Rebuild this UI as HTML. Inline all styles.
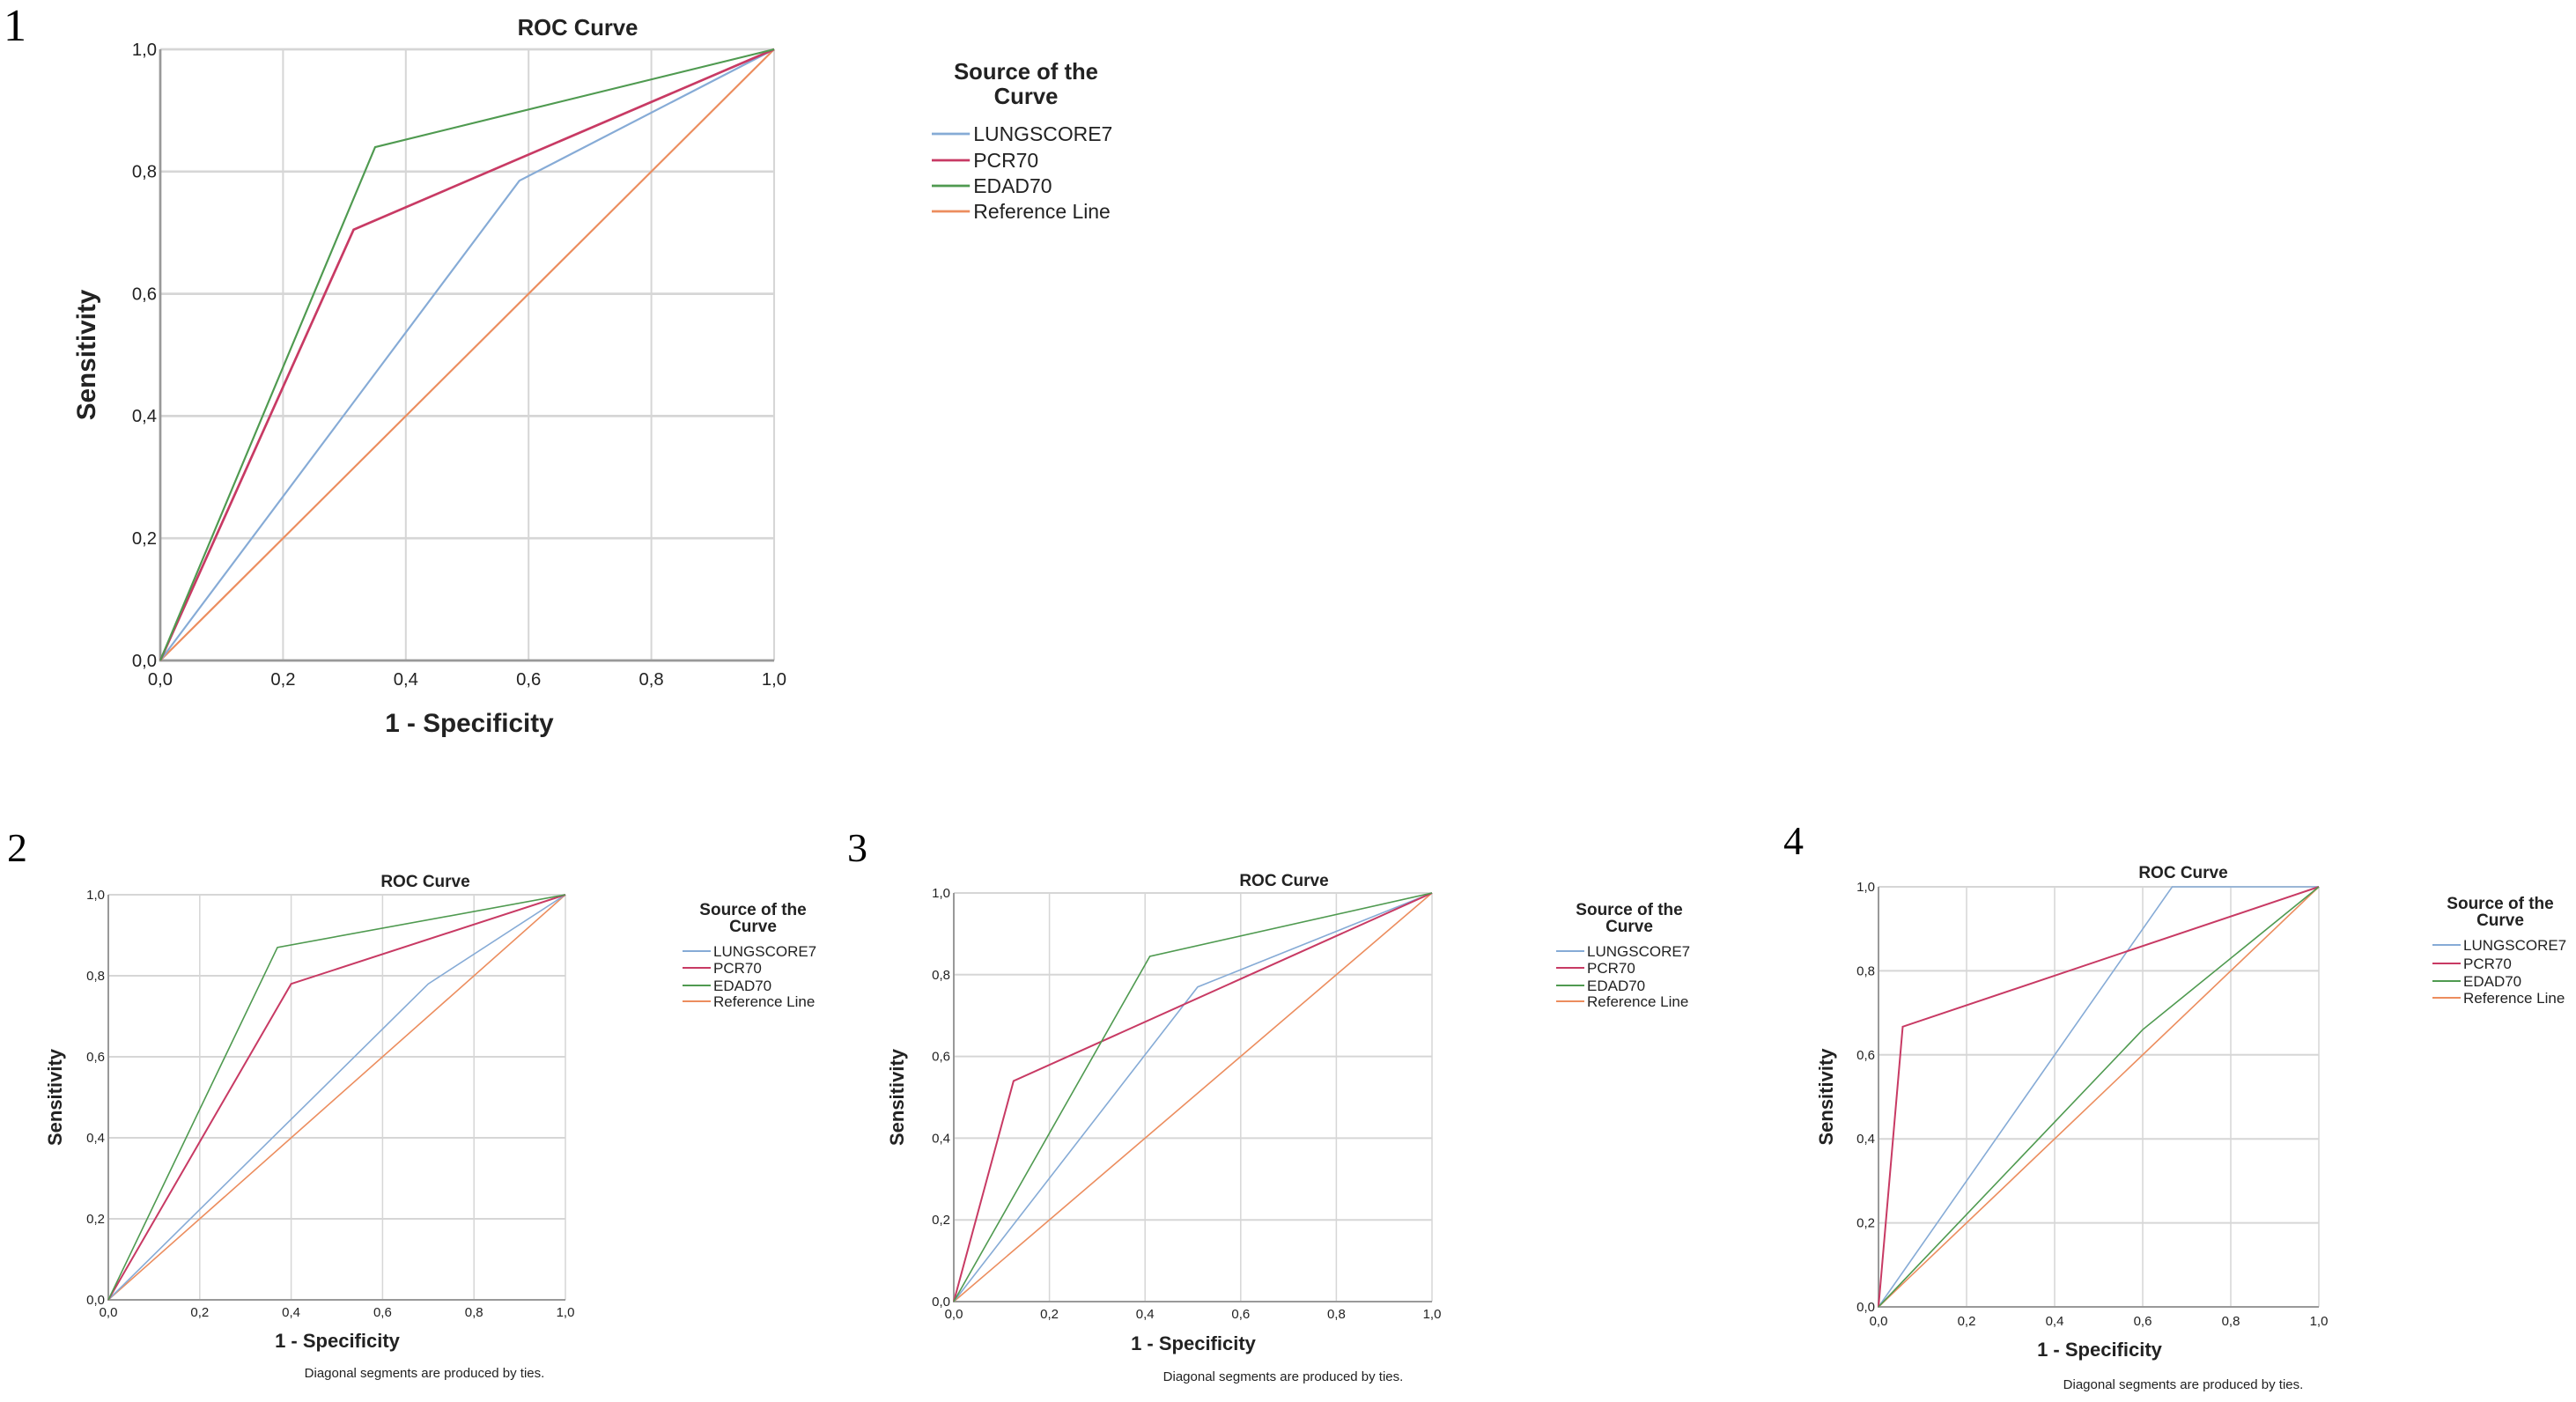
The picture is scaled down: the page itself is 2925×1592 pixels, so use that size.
<!DOCTYPE html>
<html><head><meta charset="utf-8"><style>
html,body{margin:0;padding:0;background:#fff;}
svg{display:block;}
text{font-family:"Liberation Sans Narrow","Liberation Sans",sans-serif;fill:#222;}
.num{font-family:"Liberation Serif",serif;fill:#000;}
</style></head><body>
<svg id="fig" width="2925" height="1592" viewBox="0 0 2925 1592"></svg>
<script>
// Panel 1
const p1LungX=[0,0.585,1], p1LungY=[0,0.785,1];
const p1PcrX=[0,0.315,1], p1PcrY=[0,0.705,1];
const p1EdadX=[0,0.35,1], p1EdadY=[0,0.84,1];
// Panel 2
const p2LungX=[0,0.70,1], p2LungY=[0,0.78,1];
const p2PcrX=[0,0.40,1], p2PcrY=[0,0.78,1];
const p2EdadX=[0,0.37,1], p2EdadY=[0,0.87,1];
// Panel 3
const p3LungX=[0,0.51,1], p3LungY=[0,0.77,1];
const p3PcrX=[0,0.125,1], p3PcrY=[0,0.54,1];
const p3EdadX=[0,0.41,1], p3EdadY=[0,0.845,1];
// Panel 4
const p4LungX=[0,0.667,1], p4LungY=[0,1,1];
const p4PcrX=[0,0.055,1], p4PcrY=[0,0.667,1];
const p4EdadX=[0,0.60,1], p4EdadY=[0,0.66,1];
const refX=[0,1], refY=[0,1];
const tickVals=[0,0.2,0.4,0.6,0.8,1.0];
const tickLabels=["0,0","0,2","0,4","0,6","0,8","1,0"];
const seriesNames=["LUNGSCORE7","PCR70","EDAD70","Reference Line"];
const seriesColors=["#86abd6","#c83a64","#4f9a50","#ec8d5e"];

const NS="http://www.w3.org/2000/svg";
const svg=document.getElementById('fig');
function mk(tag,attrs,parent,txt){const e=document.createElementNS(NS,tag);for(const k in attrs)e.setAttribute(k,attrs[k]);if(txt!==undefined)e.textContent=txt;(parent||svg).appendChild(e);return e;}

const panels=[
 {id:"1",L:182,R:879,T:56,B:750,s:1.35,titleY:40,titleX:656,num:[4,46,52],
  legX:1058,legTitleX:1165,legTY:[90,118],legY:[152,182,211,240],xlabY:778,xtX:533,xtY:831,ytX:108,note:null,
  data:[[p1LungX,p1LungY],[p1PcrX,p1PcrY],[p1EdadX,p1EdadY]]},
 {id:"2",L:123,R:642,T:1016,B:1476,s:1,titleY:1007,titleX:483,num:[8,978,46],
  legX:775,legTitleX:855,legTY:[1039,1058],legY:[1080,1099,1119,1137],xlabY:1495,xtX:383,xtY:1530,ytX:70,note:[482,1564],
  data:[[p2LungX,p2LungY],[p2PcrX,p2PcrY],[p2EdadX,p2EdadY]]},
 {id:"3",L:1083,R:1626,T:1014,B:1478,s:1,titleY:1006,titleX:1458,num:[962,978,46],
  legX:1767,legTitleX:1850,legTY:[1039,1058],legY:[1080,1099,1119,1137],xlabY:1497,xtX:1355,xtY:1533,ytX:1026,note:[1457,1568],
  data:[[p3LungX,p3LungY],[p3PcrX,p3PcrY],[p3EdadX,p3EdadY]]},
 {id:"4",L:2133,R:2633,T:1007,B:1484,s:1,titleY:997,titleX:2479,num:[2025,970,46],
  legX:2762,legTitleX:2839,legTY:[1032,1051],legY:[1073,1094,1114,1133],xlabY:1505,xtX:2384,xtY:1540,ytX:2081,note:[2479,1577],
  data:[[p4LungX,p4LungY],[p4PcrX,p4PcrY],[p4EdadX,p4EdadY]]}
];

panels.forEach(p=>{
 const g=mk('g',{});
 
 
 const sx=v=>p.L+v*(p.R-p.L), sy=v=>p.B-v*(p.B-p.T);
 const n=mk('text',{x:p.num[0],y:p.num[1],'font-size':p.num[2],class:'num'},g,p.id);
 
 
 tickVals.forEach((v,i)=>{
  const gx=mk('line',{x1:sx(v),x2:sx(v),y1:p.T,y2:p.B,stroke:'#d6d6d6','stroke-width':1.5*p.s},g);
  
  
  const gy=mk('line',{x1:p.L,x2:p.R,y1:sy(v),y2:sy(v),stroke:'#d6d6d6','stroke-width':2*p.s},g);
  
  
  const xl=mk('text',{x:sx(v),y:p.xlabY,'font-size':15*p.s,'text-anchor':'middle'},g,tickLabels[i]);
  
  
  const yl=mk('text',{x:p.L-4,y:sy(v)+5*p.s,'font-size':15*p.s,'text-anchor':'end'},g,tickLabels[i]);
  
  
 });
 const ax=mk('polyline',{points:`${p.L},${p.T} ${p.L},${p.B} ${p.R},${p.B}`,fill:'none',stroke:'#999','stroke-width':2*p.s},g);
 
 
 const all=p.data.concat([[refX,refY]]);
 const order=[3,0,1,2];
 order.forEach(k=>{
  const [xs,ys]=all[k];
  const pts=xs.map((x,i)=>sx(x)+','+sy(ys[i])).join(' ');
  const l=mk('polyline',{points:pts,fill:'none',stroke:seriesColors[k],'stroke-width':(k===1?2:1.6)*p.s},g);
  
  
 });
 const t=mk('text',{x:p.titleX,y:p.titleY,'font-size':19*p.s,'font-weight':'bold','text-anchor':'middle'},g,'ROC Curve');
 
 
 const xt=mk('text',{x:p.xtX,y:p.xtY,'font-size':22*p.s,'font-weight':'bold','text-anchor':'middle'},g,'1 - Specificity');
 
 
 const cy=(p.T+p.B)/2;
 const yt=mk('text',{x:p.ytX,y:cy,'font-size':22*p.s,'font-weight':'bold','text-anchor':'middle',transform:`rotate(-90 ${p.ytX} ${cy})`,'font-family':'Liberation Sans, sans-serif'},g,'Sensitivity');
 
 
 if(p.note){
  const nt=mk('text',{x:p.note[0],y:p.note[1],'font-size':15,'text-anchor':'middle'},g,'Diagonal segments are produced by ties.');
  
  
 }
 const lt1=mk('text',{x:p.legTitleX,y:p.legTY[0],'font-size':19*p.s,'font-weight':'bold','text-anchor':'middle'},g,'Source of the');
 
 
 const lt2=mk('text',{x:p.legTitleX,y:p.legTY[1],'font-size':19*p.s,'font-weight':'bold','text-anchor':'middle'},g,'Curve');
 
 
 seriesNames.forEach((nm,k)=>{
  const y=p.legY[k];
  const ll=mk('line',{x1:p.legX,x2:p.legX+32*p.s,y1:y,y2:y,stroke:seriesColors[k],'stroke-width':2*p.s},g);
  
  
  const lx=mk('text',{x:p.legX+35*p.s,y:y+6*p.s,'font-size':17*p.s},g,nm);
  
  
 });
});
</script>
</body></html>
